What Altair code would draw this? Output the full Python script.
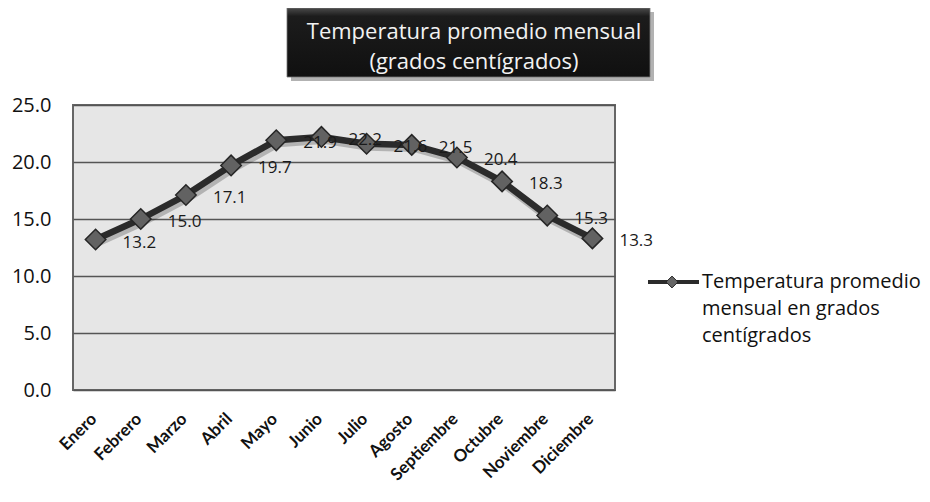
import altair as alt
import pandas as pd

months = ["Enero", "Febrero", "Marzo", "Abril", "Mayo", "Junio", "Julio",
          "Agosto", "Septiembre", "Octubre", "Noviembre", "Diciembre"]
temps = [13.2, 15.0, 17.1, 19.7, 21.9, 22.2, 21.6, 21.5, 20.4, 18.3, 15.3, 13.3]
title_lines = ["Temperatura promedio mensual", "(grados centígrados)"]
legend_lines = ["Temperatura promedio", "mensual en grados", "centígrados"]

df = pd.DataFrame({"mes": months, "temp": temps})

W, H = 542, 285
FONT = "Open Sans"

x_enc = alt.X("mes:N", sort=months, title=None,
              scale=alt.Scale(type="point", padding=0.5),
              axis=alt.Axis(labelAngle=-45, labelAlign="right", labelBaseline="middle",
                            labelFont="Lato", labelFontWeight="bold", labelFontSize=17,
                            labelColor="#111", labelPadding=26, labelOffset=-2,
                            ticks=False, domain=False, grid=False))
y_enc = alt.Y("temp:Q", title=None,
              scale=alt.Scale(domain=[0, 25], nice=False, zero=True),
              axis=alt.Axis(values=[0, 5, 10, 15, 20, 25], format=".1f",
                            labelFont=FONT, labelFontSize=20, labelColor="#111",
                            labelPadding=22, ticks=False, domain=False,
                            grid=True, gridColor="#555", gridWidth=1.5))

base = alt.Chart(df).encode(x=x_enc, y=y_enc)

shadow = base.mark_line(color="#000", strokeWidth=8, opacity=0.22, strokeJoin="round",
                        xOffset=2, yOffset=3)
line = base.mark_line(color="#2b2b2b", strokeWidth=6.5, strokeJoin="round")
pts = base.mark_point(shape="diamond", size=420, filled=True, fill="#626262",
                      stroke="#262626", strokeWidth=1.5, opacity=1)
labels = base.mark_text(align="left", baseline="middle", dx=27, dy=3,
                        font=FONT, fontSize=17, color="#1a1a1a").encode(
    text=alt.Text("temp:Q", format=".1f"))

one = alt.Data(values=[{"k": 0}])

box_shadow = alt.Chart(one).mark_rect(color="#000", opacity=0.3).encode(
    x=alt.value(218), x2=alt.value(581), y=alt.value(-93), y2=alt.value(-24))
box = alt.Chart(one).mark_rect(
    color=alt.Gradient(gradient="linear", x1=0, y1=0, x2=0, y2=1,
                       stops=[alt.GradientStop(offset=0, color="#4a4a4a"),
                              alt.GradientStop(offset=0.12, color="#1c1c1c"),
                              alt.GradientStop(offset=1, color="#101010")]),
    stroke="#777", strokeWidth=0.8).encode(
    x=alt.value(214), x2=alt.value(577), y=alt.value(-97), y2=alt.value(-28))

layers = [shadow, line, pts, labels, box_shadow, box]

for i, t in enumerate(title_lines):
    layers.append(alt.Chart(alt.Data(values=[{"t": t}])).mark_text(
        font=FONT, fontSize=22, color="#f2f2f2", align="center", baseline="middle").encode(
        x=alt.value(401), y=alt.value(-73 + 30 * i), text="t:N"))

leg_line = alt.Chart(one).mark_rule(color="#2b2b2b", strokeWidth=4).encode(
    x=alt.value(575), x2=alt.value(626), y=alt.value(177))
leg_pt = alt.Chart(one).mark_point(shape="diamond", size=140, filled=True, fill="#666",
                                   stroke="#262626", strokeWidth=1, opacity=1).encode(
    x=alt.value(599), y=alt.value(177))
layers += [leg_line, leg_pt]
for i, t in enumerate(legend_lines):
    layers.append(alt.Chart(alt.Data(values=[{"t": t}])).mark_text(
        font=FONT, fontSize=20, color="#111", align="left", baseline="middle").encode(
        x=alt.value(629), y=alt.value(177 + 27 * i), text="t:N"))

chart = alt.layer(*layers).properties(
    width=W, height=H,
    autosize=alt.AutoSizeParams(type="none"),
    padding={"left": 65, "top": 97, "right": 307, "bottom": 98},
    background="white",
).configure_view(fill="#e6e6e6", stroke="#666", strokeWidth=2)

chart.save("out.html", embed_options={"renderer": "svg", "actions": False})
